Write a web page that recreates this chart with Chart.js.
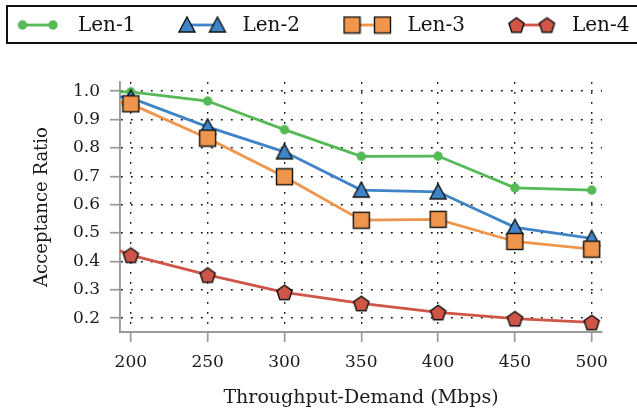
<!DOCTYPE html>
<html>
<head>
<meta charset="utf-8">
<script src="https://cdn.jsdelivr.net/npm/chart.js@4"></script>
<style>
html,body{margin:0;padding:0;background:#fff;}
#wrap{width:637px;height:412px;position:relative;}
</style>
</head>
<body>
<div id="wrap"><canvas id="c" width="637" height="412"></canvas></div>
<script>
// ---- data ----
const demands = [150, 200, 250, 300, 350, 400, 450, 500];
const len1 = [1.0, 0.997, 0.965, 0.864, 0.770, 0.771, 0.659, 0.651];
const len2 = [1.0, 0.976, 0.874, 0.786, 0.651, 0.645, 0.520, 0.481];
const len3 = [1.0, 0.955, 0.834, 0.698, 0.545, 0.548, 0.470, 0.443];
const len4 = [0.53, 0.422, 0.352, 0.291, 0.252, 0.220, 0.198, 0.185];
const xTickValues = [200, 250, 300, 350, 400, 450, 500];
const yTickValues = [0.2, 0.3, 0.4, 0.5, 0.6, 0.7, 0.8, 0.9, 1.0];
const seriesNames = ['Len-1', 'Len-2', 'Len-3', 'Len-4'];

const colors = ['#55b955', '#3f84c6', '#f0964c', '#cf5546'];
const FONT = "'DejaVu Serif', serif";

// ---- marker images ----
function makeCanvas(size, draw) {
  const cv = document.createElement('canvas');
  cv.width = size; cv.height = size;
  const g = cv.getContext('2d');
  draw(g, size);
  return cv;
}
const triImg = makeCanvas(20, (g, s) => {
  g.beginPath();
  g.moveTo(s/2, 2);
  g.lineTo(s - 2, s - 3);
  g.lineTo(2, s - 3);
  g.closePath();
  g.fillStyle = colors[1]; g.fill();
  g.lineWidth = 1.4; g.strokeStyle = '#111'; g.lineJoin = 'miter'; g.stroke();
});
const sqImg = makeCanvas(19, (g, s) => {
  g.fillStyle = colors[2];
  g.fillRect(1.5, 1.5, s - 3, s - 3);
  g.lineWidth = 1.4; g.strokeStyle = '#111';
  g.strokeRect(1.5, 1.5, s - 3, s - 3);
});
const pentImg = makeCanvas(19, (g, s) => {
  const cx = s/2, cy = s/2 + 0.8, r = 8;
  g.beginPath();
  for (let i = 0; i < 5; i++) {
    const a = -Math.PI/2 + i * 2*Math.PI/5;
    const px = cx + r*Math.cos(a), py = cy + r*Math.sin(a);
    if (i === 0) g.moveTo(px, py); else g.lineTo(px, py);
  }
  g.closePath();
  g.fillStyle = colors[3]; g.fill();
  g.lineWidth = 1.4; g.strokeStyle = '#111'; g.stroke();
});
const circImg = makeCanvas(12, (g, s) => {
  g.beginPath(); g.arc(s/2, s/2, 4.7, 0, Math.PI*2);
  g.fillStyle = colors[0]; g.fill();
});
const markerImgs = [circImg, triImg, sqImg, pentImg];

function mkData(arr) { return demands.map((x, i) => ({x: x, y: arr[i]})); }
const allSeries = [len1, len2, len3, len4];

const datasets = allSeries.map((arr, k) => ({
  label: seriesNames[k],
  data: mkData(arr),
  borderColor: colors[k],
  backgroundColor: colors[k],
  borderWidth: 2.8,
  pointStyle: markerImgs[k],
  pointRadius: demands.map(x => x < xTickValues[0] ? 0 : 6),
  pointHoverRadius: 6,
  tension: 0,
  order: 4 - k
}));

// ---- custom legend plugin ----
const legendPlugin = {
  id: 'boxLegend',
  afterDraw(chart) {
    const ctx = chart.ctx;
    ctx.save();
    ctx.lineWidth = 2;
    ctx.strokeStyle = '#111';
    ctx.strokeRect(7, 6, 640, 37);
    const cy = 25;
    const starts = [22.5, 187, 352, 516.5];
    for (let k = 0; k < 4; k++) {
      const x1 = starts[k], x2 = starts[k] + 30.5;
      ctx.beginPath();
      ctx.strokeStyle = colors[k];
      ctx.lineWidth = 2.8;
      ctx.moveTo(x1, cy); ctx.lineTo(x2, cy); ctx.stroke();
      const img = markerImgs[k];
      ctx.drawImage(img, x1 - img.width/2, cy - img.height/2);
      ctx.drawImage(img, x2 - img.width/2, cy - img.height/2);
      ctx.fillStyle = '#111';
      ctx.font = "20px " + FONT;
      ctx.textBaseline = 'middle';
      ctx.textAlign = 'left';
      ctx.fillText(seriesNames[k], x2 + 25, cy + 1);
    }
    ctx.restore();
  }
};

const gridCommon = {
  color: '#111',
  lineWidth: 1.4,
  drawTicks: true,
  tickLength: 10,
  tickColor: '#999',
  tickWidth: 1.7,
  tickBorderDash: []
};
const borderCommon = { display: true, color: '#9a9a9a', width: 1.9, dash: [1.8, 8.2] };

new Chart(document.getElementById('c'), {
  type: 'line',
  data: { datasets: datasets },
  plugins: [legendPlugin],
  options: {
    responsive: false,
    animation: false,
    devicePixelRatio: 1,
    layout: { padding: { left: 0, right: 35, top: 82, bottom: 0 } },
    plugins: { legend: { display: false }, tooltip: { enabled: false } },
    scales: {
      x: {
        type: 'linear',
        min: 192.96,
        max: 506.7,
        afterBuildTicks: s => { s.ticks = xTickValues.map(v => ({ value: v })); },
        afterFit: s => { s.height = 80; },
        grid: gridCommon,
        border: borderCommon,
        ticks: {
          font: { family: FONT, size: 17 },
          color: '#1a1a1a',
          padding: 10,
          maxRotation: 0,
          autoSkip: false,
          callback: v => String(v)
        },
        title: {
          display: true,
          text: 'Throughput-Demand (Mbps)',
          font: { family: FONT, size: 19 },
          color: '#1a1a1a',
          padding: { top: 0, bottom: 3 }
        }
      },
      y: {
        type: 'linear',
        min: 0.151,
        max: 1.032,
        afterBuildTicks: s => { s.ticks = yTickValues.map(v => ({ value: v })); },
        afterFit: s => { s.width = 120; },
        grid: gridCommon,
        border: borderCommon,
        ticks: {
          font: { family: FONT, size: 17 },
          color: '#1a1a1a',
          padding: 10,
          autoSkip: false,
          callback: v => Number(v).toFixed(1)
        },
        title: {
          display: true,
          text: 'Acceptance Ratio',
          font: { family: FONT, size: 18 },
          color: '#1a1a1a',
          padding: { top: 32, bottom: 0 }
        }
      }
    }
  }
});
</script>
</body>
</html>
